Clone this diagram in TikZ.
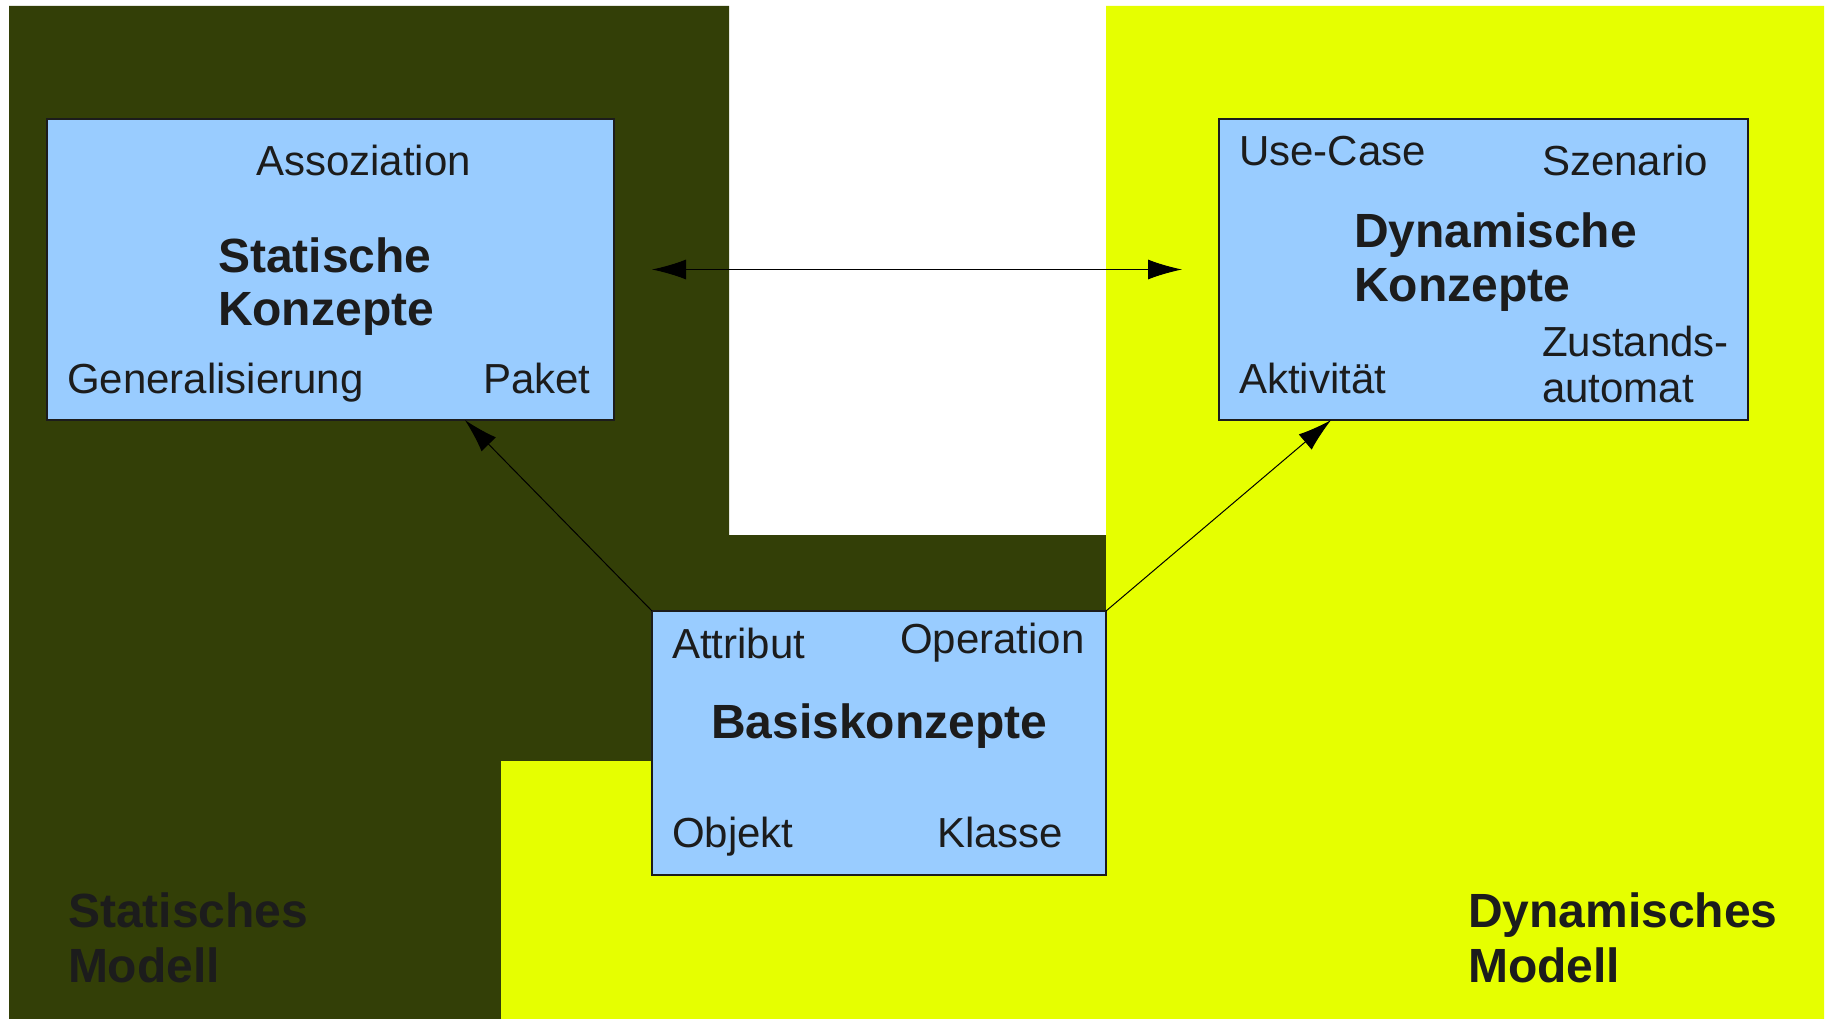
\documentclass[tikz,border=0pt]{standalone}
\usepackage{fontspec}
\setmainfont{Liberation Sans}
\usetikzlibrary{positioning,calc,arrows.meta}
\definecolor{modelldunkel}{HTML}{333F07}
\definecolor{modellgelb}{HTML}{E6FF00}
\definecolor{konzeptblau}{HTML}{99CCFF}
\definecolor{schrift}{HTML}{1C1C1C}
\tikzset{%
  >={Latex[length=34pt,width=20pt]},
  konzept/.style={draw=schrift,line width=1.2pt,fill=konzeptblau,
    inner sep=0pt,outer sep=0pt,anchor=north west},
  begriff/.style={inner sep=0pt,outer sep=0pt,anchor=base west,
    text=schrift,font=\fontsize{42}{46}\selectfont},
  titel/.style={begriff,align=left,font=\fontsize{48}{53}\selectfont\bfseries},
  pfeil/.style={line width=1pt}
}

\begin{document}
\begin{tikzpicture}[x=1pt,y=-1pt]
	%% page
	\useasboundingbox (0,0) rectangle (1831,1019);
	
	%% the two model areas
	\fill[modelldunkel] (9,6) -- (729,6) -- (729,535) -- (1106,535) -- (1106,761)
	  -- (501,761) -- (501,1019) -- (9,1019) -- cycle;
	\fill[modellgelb] (1106,6) -- (1824,6) -- (1824,1019) -- (501,1019)
	  -- (501,761) -- (1106,761) -- cycle;
	
	%% concept boxes
	\node[konzept,minimum width=567pt,minimum height=301pt] (stat) at (47,119) {};
	\node[konzept,minimum width=529pt,minimum height=301pt] (dyn) at (1219,119) {};
	\node[konzept,minimum width=454pt,minimum height=264pt] (basis) at (652,611) {};
	
	% static concepts (multi-line nodes sit on their last baseline)
	\node[begriff] (assoz) at (256,176) {Assoziation};
	\node[titel] (statT) at (218,325) {Statische\\Konzepte};
	\node[begriff] (general) at (67,393) {Generalisierung};
	\node[begriff] (paket) at (483,393) {Paket};
	
	% dynamic concepts
	\node[begriff] (usecase) at (1239,166) {Use-Case};
	\node[begriff] (szenario) at (1542,176) {Szenario};
	\node[titel,font=\fontsize{48}{54}\selectfont\bfseries] (dynT) at (1354,301) {Dynamische\\Konzepte};
	\node[begriff] (aktiv) at (1239,393) {Aktivität};
	\node[begriff,align=left] (zustand) at (1542,402) {Zustands-\\automat};
	
	% basic concepts
	\node[begriff] (attrib) at (672,658) {Attribut};
	\node[begriff] (operat) at (900,653) {Operation};
	\node[titel] (basisT) at (711,738) {Basiskonzepte};
	\node[begriff] (objekt) at (672,847) {Objekt};
	\node[begriff] (klasse) at (937,847) {Klasse};
	
	%% model labels
	\node[titel,font=\fontsize{48}{55}\selectfont\bfseries] (statM) at (68,982) {Statisches\\Modell};
	\node[titel,font=\fontsize{48}{55}\selectfont\bfseries] (dynM) at (1468,982) {Dynamisches\\Modell};
	
	%% relations
	\draw[pfeil,<->] ([xshift=38pt]stat.east) -- ([xshift=-37pt]dyn.west);
	\draw[pfeil,->] (basis.north west) -- ($(stat.south west)!0.737!(stat.south east)$);
	\draw[pfeil,->] (basis.north east) -- ($(dyn.south west)!0.212!(dyn.south east)$);
	
\end{tikzpicture}
\end{document}
